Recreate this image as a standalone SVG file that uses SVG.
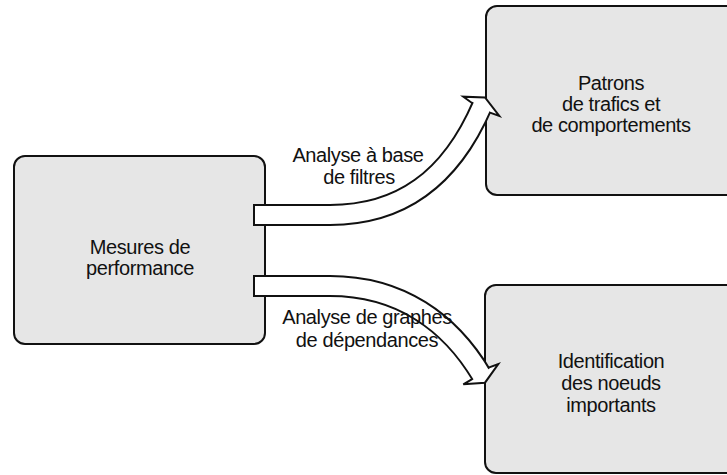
<svg xmlns="http://www.w3.org/2000/svg" width="727" height="475" viewBox="0 0 727 475">
<style>
.box{fill:#e6e6e6;stroke:#111;stroke-width:2}
.lbl{font-family:"Liberation Sans",Arial,sans-serif;font-size:20px;fill:#111;text-anchor:middle;letter-spacing:-0.4px}
.sh-o{fill:none;stroke:#111;stroke-width:22}
.sh-i{fill:none;stroke:#fff;stroke-width:18}
.head{fill:#fff;stroke:#111;stroke-width:2;stroke-linejoin:miter}
</style>
<rect width="727" height="475" fill="#fff"/>
<g id="node-mesures">
<rect class="box" x="14" y="156" width="251" height="188" rx="11"/>
<text class="lbl" x="140" y="254">Mesures de</text>
<text class="lbl" x="140" y="275">performance</text>
</g>
<g id="node-patrons">
<rect class="box" x="486" y="6" width="260" height="189" rx="11"/>
<text class="lbl" x="611" y="90">Patrons</text>
<text class="lbl" x="611" y="111">de trafics et</text>
<text class="lbl" x="611" y="132">de comportements</text>
</g>
<g id="node-identification">
<rect class="box" x="485" y="285" width="260" height="188" rx="11"/>
<text class="lbl" x="611" y="368">Identification</text>
<text class="lbl" x="611" y="390">des noeuds</text>
<text class="lbl" x="611" y="412">importants</text>
</g>
<g id="connectors">
<g id="arrow-filtres">
<path class="sh-o" d="M253 215 L330 215 C400 215 450 180 482 106"/>
<polygon class="head" points="471.7,102.7 463.3,96.7 485,97.5 499.3,116 490,112.7"/>
<path class="sh-i" d="M255 215 L330 215 C400 215 450 180 482.5 105"/>
<path d="M254 204 L254 226" stroke="#111" stroke-width="2" fill="none"/>
</g>
<g id="arrow-graphes">
<path class="sh-o" d="M253 286 L330 286 C400 286 450 322 481.5 375"/>
<polygon class="head" points="471.7,379.3 463.3,384.3 485,382.7 498.3,364 489.3,367.3"/>
<path class="sh-i" d="M255 286 L330 286 C400 286 450 322 482 376"/>
<path d="M254 275 L254 297" stroke="#111" stroke-width="2" fill="none"/>
</g>
<text class="lbl" x="358" y="162">Analyse à base</text>
<text class="lbl" x="359" y="184">de filtres</text>
<text class="lbl" x="367" y="324">Analyse de graphes</text>
<text class="lbl" x="367" y="347">de dépendances</text>
</g>
</svg>
